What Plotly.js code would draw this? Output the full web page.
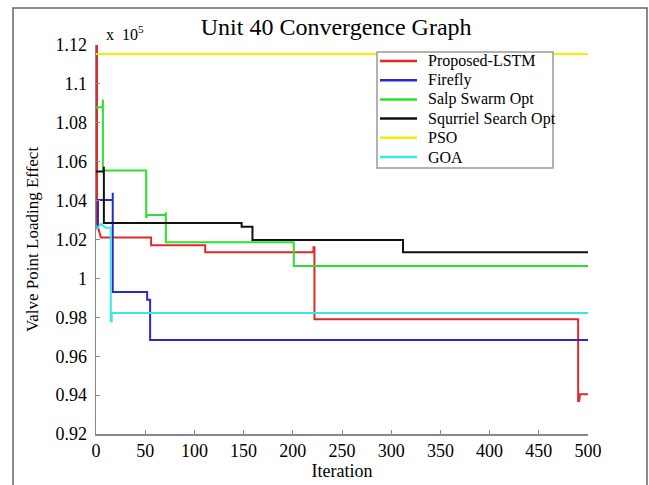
<!DOCTYPE html>
<html>
<head>
<meta charset="utf-8">
<script src="https://cdn.plot.ly/plotly-3.0.1.min.js"></script>
<style>html,body{margin:0;padding:0;background:#fff;}#chart{width:649px;height:485px;}</style>
</head>
<body>
<div id="chart"></div>
<script>
// values in units of 1e5
var seriesNames = ["Proposed-LSTM", "Firefly", "Salp Swarm Opt", "Squrriel Search Opt", "PSO", "GOA"];

var lstmIter = [0, 1, 1, 3, 5, 56, 56, 111, 111, 221, 221, 222, 222, 490, 490, 491, 492, 500];
var lstmVal  = [1.12, 1.12, 1.028, 1.025, 1.021, 1.021, 1.017, 1.017, 1.0135, 1.0135, 1.016, 1.016, 0.979, 0.979, 0.937, 0.937, 0.9405, 0.9405];

var fireflyIter = [0, 2, 2, 17, 17, 17, 52, 52, 55, 55, 500];
var fireflyVal  = [1.026, 1.026, 1.0403, 1.0403, 1.044, 0.993, 0.993, 0.989, 0.989, 0.9683, 0.9683];

var salpIter = [0, 7, 7, 7, 51, 51, 52, 71, 71, 71, 201, 201, 500];
var salpVal  = [1.088, 1.088, 1.092, 1.0555, 1.0555, 1.031, 1.0326, 1.0326, 1.034, 1.0186, 1.0186, 1.0064, 1.0064];

var squirrelIter = [0, 8, 8, 8, 148, 148, 159, 159, 312, 312, 500];
var squirrelVal  = [1.055, 1.055, 1.0574, 1.0285, 1.0285, 1.0266, 1.0266, 1.0197, 1.0197, 1.0134, 1.0134];

var psoIter = [0, 500];
var psoVal  = [1.1154, 1.1154];

var goaIter = [0, 5, 10, 15, 15, 16, 16, 500];
var goaVal  = [1.025, 1.028, 1.026, 1.026, 0.978, 0.978, 0.9822, 0.9822];

var xTickVals = [0, 50, 100, 150, 200, 250, 300, 350, 400, 450, 500];
var yTickVals = [0.92, 0.94, 0.96, 0.98, 1.0, 1.02, 1.04, 1.06, 1.08, 1.1, 1.12];
var yTickText = ["0.92", "0.94", "0.96", "0.98", "1", "1.02", "1.04", "1.06", "1.08", "1.1", "1.12"];

var colors = ["#dd2a2a", "#2a2acc", "#2ee02e", "#111111", "#f0f000", "#3ae6e6"];
var xs = [lstmIter, fireflyIter, salpIter, squirrelIter, psoIter, goaIter];
var ys = [lstmVal, fireflyVal, salpVal, squirrelVal, psoVal, goaVal];

var traces = [];
for (var k = 0; k < seriesNames.length; k++) {
  traces.push({
    x: xs[k], y: ys[k], name: seriesNames[k], type: "scatter", mode: "lines",
    line: {color: colors[k], width: 2}, showlegend: false
  });
}

var serif = "Liberation Serif, Times New Roman, serif";

// plot area geometry (pixels) used to place the hand-drawn legend box
var M = {l: 96, r: 61, t: 45, b: 51};
var W = 649, H = 485;
var pw = W - M.l - M.r, ph = H - M.t - M.b;
function px2x(p) { return (p - M.l) / pw; }
function py2y(p) { return (H - M.b - p) / ph; }

var shapes = [
  {type: "rect", xref: "paper", yref: "paper", x0: px2x(13), x1: px2x(647), y0: py2y(520), y1: py2y(8),
   line: {color: "#666", width: 1.5}, fillcolor: "rgba(0,0,0,0)", layer: "below"},
  {type: "rect", xref: "paper", yref: "paper", x0: px2x(377), x1: px2x(553), y0: py2y(168), y1: py2y(52),
   line: {color: "#999", width: 1.5}, fillcolor: "#fff", layer: "above"}
];
var annotations = [
  {text: "x  10<sup>5</sup>", xref: "paper", yref: "paper", x: px2x(104), y: 1.0,
   xanchor: "left", yanchor: "bottom", showarrow: false, font: {family: serif, size: 16, color: "#000"}}
];
for (var i = 0; i < seriesNames.length; i++) {
  var rowY = 61 + i * 19.2;
  shapes.push({type: "line", xref: "paper", yref: "paper", x0: px2x(380), x1: px2x(417),
               y0: py2y(rowY), y1: py2y(rowY), line: {color: colors[i], width: 2.5}, layer: "above"});
  annotations.push({text: seriesNames[i], xref: "paper", yref: "paper", x: px2x(426), y: py2y(rowY),
                    xanchor: "left", yanchor: "middle", showarrow: false,
                    font: {family: serif, size: 16, color: "#000"}});
}

var layout = {
  width: W, height: H,
  margin: M,
  paper_bgcolor: "#fff", plot_bgcolor: "#fff",
  font: {family: serif, color: "#000", size: 18},
  title: {text: "Unit 40 Convergence Graph", font: {family: serif, size: 24, color: "#000"},
          xref: "container", x: 0.518, xanchor: "center", yref: "container", y: 0.946, yanchor: "middle"},
  showlegend: false,
  xaxis: {range: [0, 500], tickvals: xTickVals, ticks: "inside", ticklen: 4, tickcolor: "#888",
          showline: true, linecolor: "#888", linewidth: 1.5, showgrid: false, zeroline: false,
          mirror: false, tickfont: {family: serif, size: 18},
          title: {text: "Iteration", font: {family: serif, size: 18}, standoff: 2}},
  yaxis: {range: [0.92, 1.12], tickvals: yTickVals, ticktext: yTickText, ticks: "inside", ticklen: 4,
          tickcolor: "#888", showline: true, linecolor: "#888", linewidth: 1.5, showgrid: false,
          zeroline: false, tickfont: {family: serif, size: 18}, ticklabelstandoff: 4,
          title: {text: "Valve Point Loading Effect", font: {family: serif, size: 17}, standoff: 12}},
  annotations: annotations,
  shapes: shapes
};

Plotly.newPlot("chart", traces, layout, {displayModeBar: false, staticPlot: true});
</script>
</body>
</html>
